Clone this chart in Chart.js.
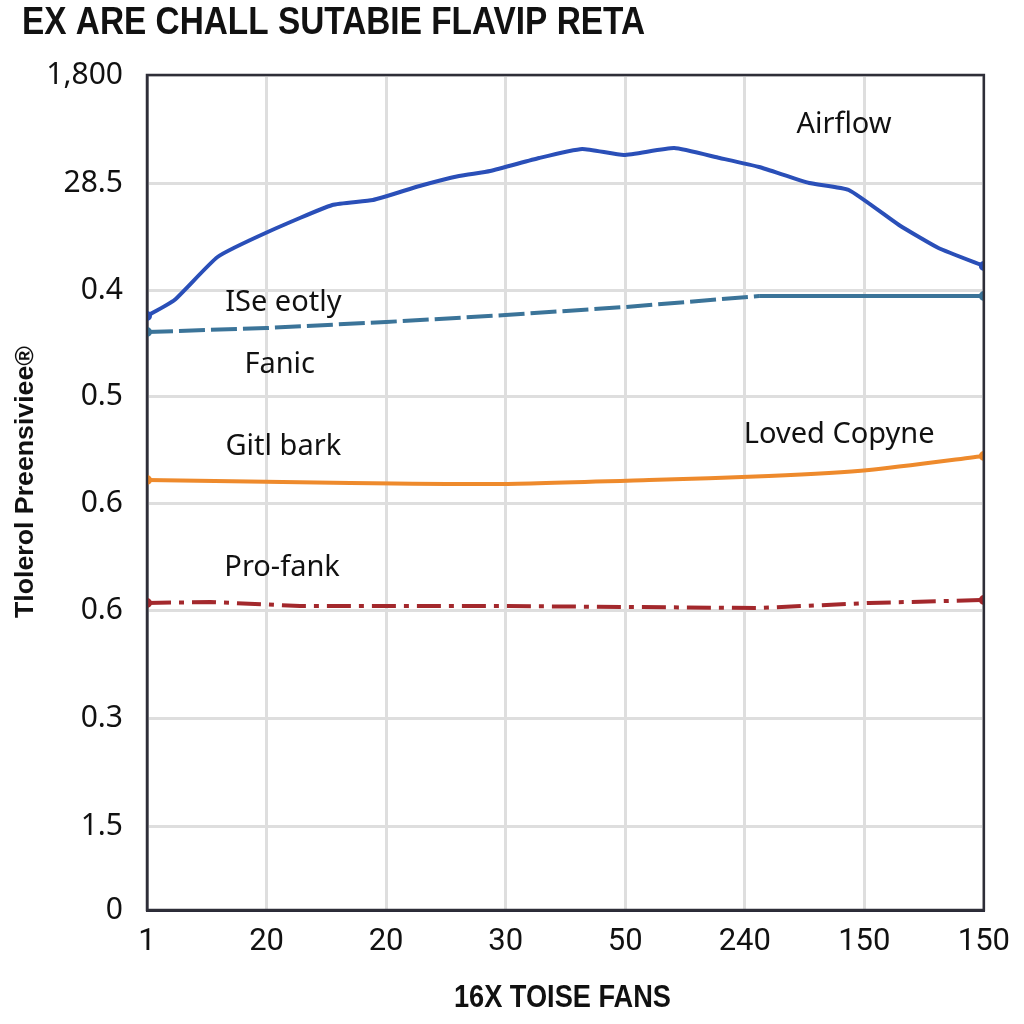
<!DOCTYPE html>
<html>
<head>
<meta charset="utf-8">
<script src="https://cdn.jsdelivr.net/npm/chart.js@4.4.1/dist/chart.umd.min.js"></script>
<style>
    html, body { margin: 0; padding: 0; background: #fff; }
    #wrap { width: 1024px; height: 1024px; }
</style>
</head>
<body>
<div id="wrap"><canvas id="grafico" width="1024" height="1024"></canvas></div>
<script>
// etiquetas de los ejes (tal cual aparecen)
const xTickLabels = ['1', '20', '20', '30', '50', '240', '150', '150'];
const yTickValues = [0, 84, 192, 300, 407, 514, 620, 727, 835];
const yTickLabels = ['0', '1.5', '0.3', '0.6', '0.6', '0.5', '0.4', '28.5', '1,800'];

const titulo = 'EX ARE CHALL SUTABIE FLAVIP RETA';
const tituloX = '16X TOISE FANS';
const tituloY = 'Tlolerol Preensiviee\u00ae';

// series (x = posición en la escala de categorías, y = valor)
const airflowX = [0, 0.23, 0.59, 1.01, 1.55, 1.89, 2.28, 2.61, 2.87, 3.28, 3.64, 3.99, 4.41, 4.79, 5.12, 5.54, 5.87, 6.29, 6.62, 7];
const airflowY = [594, 610, 653, 678, 705, 710, 724, 734, 739, 752, 761, 755, 762, 752, 743, 727, 720, 685, 662, 644];

const eotlyX = [0, 1, 2, 3, 4, 5.12, 7];
const eotlyY = [578, 582, 588, 595, 603, 614, 614];

const barkX = [0, 1.7, 2.95, 4.2, 5.2, 6.04, 7];
const barkY = [430, 427, 426, 430, 434, 440, 454];

const fankX = [0, 0.53, 1.28, 2.95, 5.12, 6.04, 7];
const fankY = [307, 308, 304, 304, 302, 307, 310];

// etiquetas dentro del gráfico
const etiquetas = [
    { texto: 'Airflow', x: 5.83, y: 785 },
    { texto: 'ISe eotly', x: 1.14, y: 607 },
    { texto: 'Fanic', x: 1.11, y: 545 },
    { texto: 'Gitl bark', x: 1.14, y: 463 },
    { texto: 'Loved Copyne', x: 5.79, y: 475 },
    { texto: 'Pro-fank', x: 1.13, y: 342 }
];

function puntos(xs, ys) {
    return xs.map((x, i) => ({ x: x, y: ys[i] }));
}

const extremos = ctx => (ctx.dataIndex === 0 || ctx.dataIndex === ctx.dataset.data.length - 1) ? 3 : 0;

// texto estrechado horizontalmente (no hay fuente "narrow" instalada)
function textoEstrecho(c, texto, x, y, ancho) {
    const w = c.measureText(texto).width;
    c.save();
    c.translate(x, y);
    c.scale(ancho / w, 1);
    c.fillText(texto, 0, 0);
    c.restore();
}

const textosPlugin = {
    id: 'textos',
    afterDraw(chart) {
        const c = chart.ctx;
        const area = chart.chartArea;
        const sx = chart.scales.x;
        const sy = chart.scales.y;
        c.save();
        // marco del área
        c.strokeStyle = '#2e2e38';
        c.lineWidth = 2.5;
        c.strokeRect(area.left, area.top, area.right - area.left, area.bottom - area.top);

        c.fillStyle = '#111';
        c.textBaseline = 'middle';
        c.textAlign = 'center';
        c.font = '29px "Noto Sans"';
        etiquetas.forEach(e => {
            c.fillText(e.texto, sx.getPixelForValue(e.x), sy.getPixelForValue(e.y));
        });

        c.textAlign = 'left';
        c.font = 'bold 39px "Liberation Sans"';
        textoEstrecho(c, titulo, 22, 23, 623);

        c.textAlign = 'center';
        c.font = 'bold 32px "Liberation Sans"';
        textoEstrecho(c, tituloX, (area.left + area.right) / 2 - 3, 998, 217);

        c.translate(26, 482);
        c.rotate(-Math.PI / 2);
        c.font = 'bold 26px "Liberation Sans"';
        textoEstrecho(c, tituloY, 0, 0, 272);
        c.restore();
    }
};

function inicializarGrafico() {
    const ctx = document.getElementById('grafico').getContext('2d');
    window.grafico = new Chart(ctx, {
        type: 'line',
        data: {
            datasets: [
                {
                    label: 'Airflow',
                    data: puntos(airflowX, airflowY),
                    borderColor: '#2a4fb8',
                    backgroundColor: '#2a4fb8',
                    borderWidth: 4,
                    pointRadius: extremos,
                    tension: 0.15
                },
                {
                    label: 'ISe eotly',
                    data: puntos(eotlyX, eotlyY),
                    borderColor: '#3b7499',
                    backgroundColor: '#3b7499',
                    borderWidth: 4,
                    pointRadius: extremos,
                    segment: { borderDash: s => s.p0.parsed.x >= 5 ? [] : [26, 6] }
                },
                {
                    label: 'Gitl bark',
                    data: puntos(barkX, barkY),
                    borderColor: '#ee8a2c',
                    backgroundColor: '#ee8a2c',
                    borderWidth: 4,
                    pointRadius: extremos,
                    tension: 0.2
                },
                {
                    label: 'Pro-fank',
                    data: puntos(fankX, fankY),
                    borderColor: '#a3282c',
                    backgroundColor: '#a3282c',
                    borderWidth: 4,
                    borderDash: [24, 8, 5, 8],
                    pointRadius: extremos
                }
            ]
        },
        options: {
            responsive: false,
            animation: false,
            layout: { padding: { top: 75, right: 39, left: 0, bottom: 0 } },
            plugins: {
                legend: { display: false },
                title: { display: false },
                tooltip: { enabled: false }
            },
            scales: {
                x: {
                    type: 'linear',
                    min: 0,
                    max: 7,
                    afterFit: s => { s.height = 114; },
                    afterBuildTicks: s => { s.ticks = xTickLabels.map((_, i) => ({ value: i })); },
                    grid: { color: '#dedede', lineWidth: 3, drawTicks: false },
                    border: { color: '#2a2a38', width: 3 },
                    ticks: {
                        padding: 14,
                        color: '#111',
                        font: { family: 'Roboto', size: 31 },
                        callback: v => xTickLabels[v]
                    }
                },
                y: {
                    type: 'linear',
                    min: 0,
                    max: 835,
                    afterFit: s => { s.width = 147; },
                    afterBuildTicks: s => { s.ticks = yTickValues.map(v => ({ value: v })); },
                    grid: { color: '#dedede', lineWidth: 3, drawTicks: false },
                    border: { color: '#2e2e38', width: 2.5 },
                    ticks: {
                        padding: 24,
                        color: '#111',
                        font: { family: 'Noto Sans', size: 30 },
                        callback: (v, i) => yTickLabels[i]
                    }
                }
            }
        },
        plugins: [textosPlugin]
    });
}

document.addEventListener('DOMContentLoaded', inicializarGrafico);
</script>
</body>
</html>
